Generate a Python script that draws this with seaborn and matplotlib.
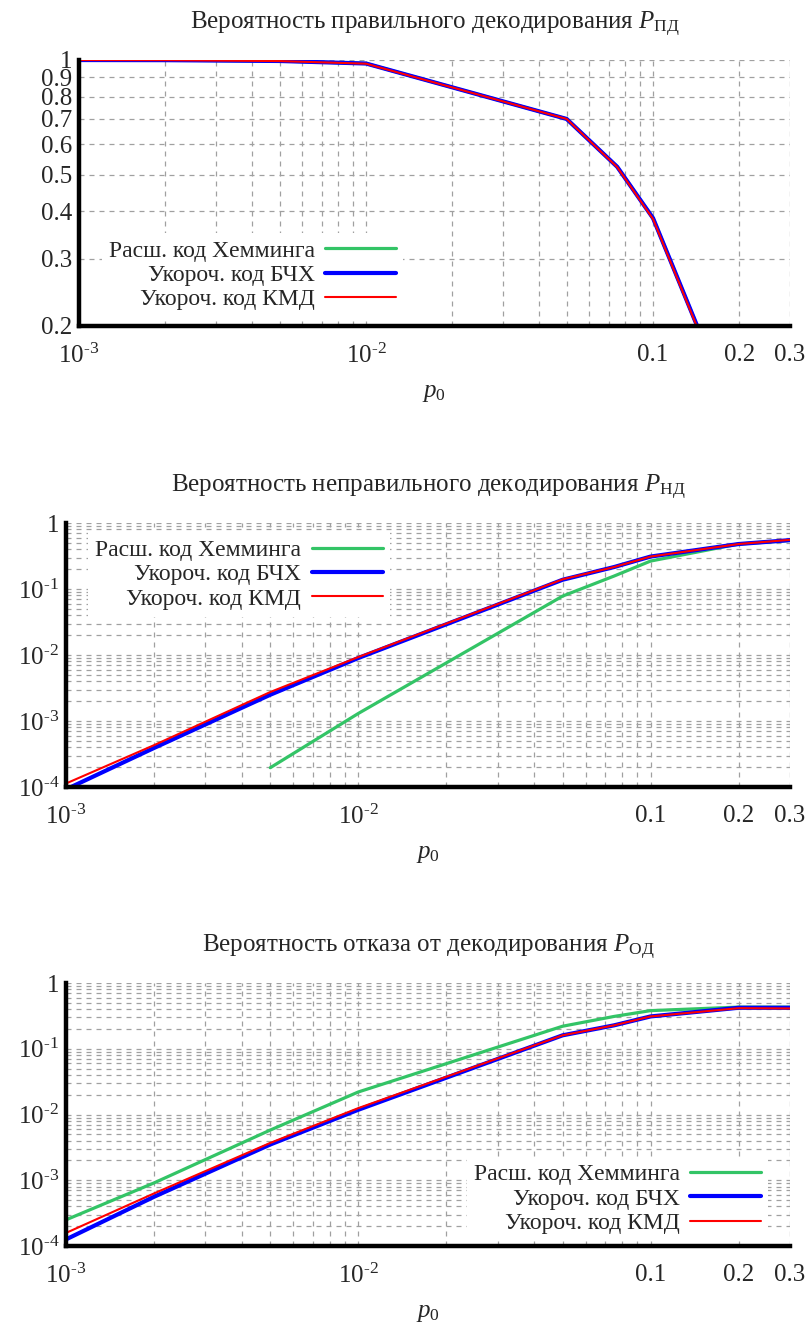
import numpy as np
import pandas as pd
import matplotlib
matplotlib.use("Agg")
import matplotlib.pyplot as plt
import matplotlib.ticker as mticker
import seaborn as sns

# ================= DATA =================
P0 = [0.001, 0.002, 0.005, 0.01, 0.05, 0.075, 0.1, 0.2, 0.3]

# probability of correct decoding
PD_HAM = [0.9998, 0.999, 0.994, 0.979, 0.70, 0.524, 0.384, 0.107, 0.034]
PD_BCH = [0.9998, 0.999, 0.994, 0.979, 0.70, 0.524, 0.384, 0.107, 0.034]
PD_KMD = [0.9997, 0.999, 0.9935, 0.978, 0.70, 0.523, 0.382, 0.106, 0.034]

# probability of incorrect decoding (Hamming is zero below 0.005)
ND_HAM = [np.nan, np.nan, 1.96e-4, 1.3e-3, 0.078, 0.157, 0.265, 0.48, 0.545]
ND_BCH = [0.92e-4, 3.9e-4, 2.5e-3, 9.0e-3, 0.138, 0.215, 0.31, 0.48, 0.55]
ND_KMD = [1.13e-4, 4.3e-4, 2.75e-3, 9.3e-3, 0.14, 0.215, 0.31, 0.48, 0.556]

# probability of decoding refusal
OD_HAM = [2.5e-4, 9.1e-4, 5.8e-3, 0.022, 0.22, 0.31, 0.38, 0.43, 0.43]
OD_BCH = [1.26e-4, 5.6e-4, 3.5e-3, 0.0118, 0.16, 0.227, 0.31, 0.42, 0.42]
OD_KMD = [1.58e-4, 6.3e-4, 3.7e-3, 0.0125, 0.16, 0.227, 0.31, 0.414, 0.41]

LABELS = ["Расш. код Хемминга", "Укороч. код БЧХ", "Укороч. код КМД"]
TITLES = [
    r"Вероятность правильного декодирования $P_{\mathrm{ПД}}$",
    r"Вероятность неправильного декодирования $P_{\mathrm{НД}}$",
    r"Вероятность отказа от декодирования $P_{\mathrm{ОД}}$",
]

X_MAJOR = [0.001, 0.01, 0.1, 0.2, 0.3]
X_MAJOR_LABELS = [r"$10^{\text{-3}}$", r"$10^{\text{-2}}$", "0.1", "0.2", "0.3"]
Y1_TICKS = [0.2, 0.3, 0.4, 0.5, 0.6, 0.7, 0.8, 0.9, 1.0]
Y1_LABELS = ["0.2", "0.3", "0.4", "0.5", "0.6", "0.7", "0.8", "0.9", "1"]
Y_DEC_TICKS = [1e-4, 1e-3, 1e-2, 1e-1, 1]
Y_DEC_LABELS = [r"$10^{\text{-4}}$", r"$10^{\text{-3}}$", r"$10^{\text{-2}}$",
                r"$10^{\text{-1}}$", "1"]

# ================= STYLE =================
sns.set_style("white")
plt.rcParams["font.family"] = ["Liberation Serif", "DejaVu Serif"]
plt.rcParams["mathtext.fontset"] = "custom"
plt.rcParams["mathtext.rm"] = "Liberation Serif"
plt.rcParams["mathtext.it"] = "Liberation Serif:italic"
plt.rcParams["font.size"] = 18

COLORS = ["#33c466", "#0000ff", "#ff0000"]
WIDTHS = [2.3, 3.0, 1.5]
GRID_KW = dict(color="#a0a0a0", linestyle=(0, (4, 4)), linewidth=0.9)


def draw_panel(ax, series, title, ylim, yticks, ylabels, legend_kw, minor_y):
    for (ys, label, color, lw) in zip(series, LABELS, COLORS, WIDTHS):
        df = pd.DataFrame({"p0": P0, "val": ys}).dropna()
        sns.lineplot(data=df, x="p0", y="val", color=color, linewidth=lw,
                     label=label, ax=ax, legend=False)
    ax.set_xscale("log")
    ax.set_yscale("log")
    ax.set_xlim(0.001, 0.3)
    ax.set_ylim(*ylim)

    ax.xaxis.set_major_locator(mticker.FixedLocator(X_MAJOR))
    ax.xaxis.set_major_formatter(mticker.FixedFormatter(X_MAJOR_LABELS))
    ax.xaxis.set_minor_locator(mticker.LogLocator(base=10, subs=np.arange(2, 10)))
    ax.xaxis.set_minor_formatter(mticker.NullFormatter())

    ax.yaxis.set_major_locator(mticker.FixedLocator(yticks))
    ax.yaxis.set_major_formatter(mticker.FixedFormatter(ylabels))
    if minor_y:
        ax.yaxis.set_minor_locator(mticker.LogLocator(base=10, subs=np.arange(2, 10)))
    else:
        ax.yaxis.set_minor_locator(mticker.NullLocator())
    ax.yaxis.set_minor_formatter(mticker.NullFormatter())

    ax.grid(True, which="both", **GRID_KW)
    ax.set_axisbelow(True)

    for side in ["top", "right"]:
        ax.spines[side].set_visible(False)
    for side in ["left", "bottom"]:
        ax.spines[side].set_linewidth(3.2)
        ax.spines[side].set_color("black")
    ax.tick_params(which="major", direction="in", length=6, width=3, color="black")
    ax.tick_params(which="minor", direction="in", length=3, width=3, color="black")
    ax.tick_params(axis="x", which="major", pad=13)
    ax.tick_params(axis="y", which="major", pad=5)

    ax.set_xlabel(r"$p_0$", labelpad=10)
    ax.set_ylabel("")
    ax.set_title(title, pad=22, fontsize=18)

    handles, labels = ax.get_legend_handles_labels()
    leg = ax.legend(handles, labels, markerfirst=False, frameon=True, fontsize=17,
                    handlelength=3.0, handletextpad=0.45, labelspacing=0.12,
                    borderpad=0.3, borderaxespad=0, fancybox=False, **legend_kw)
    leg.get_frame().set_facecolor("white")
    leg.get_frame().set_edgecolor("none")
    leg.get_frame().set_alpha(1)


fig = plt.figure(figsize=(8.05, 13.34), dpi=100)
ax1 = fig.add_axes([79 / 805, 1 - 326 / 1334, 711 / 805, 266 / 1334])
ax2 = fig.add_axes([66 / 805, 1 - 787 / 1334, 724 / 805, 264 / 1334])
ax3 = fig.add_axes([66 / 805, 1 - 1246 / 1334, 724 / 805, 263 / 1334])

draw_panel(ax1, [PD_HAM, PD_BCH, PD_KMD], TITLES[0], (0.2, 1.0), Y1_TICKS, Y1_LABELS,
           dict(loc="upper right", bbox_to_anchor=(0.456, 0.35)), minor_y=False)
draw_panel(ax2, [ND_HAM, ND_BCH, ND_KMD], TITLES[1], (1e-4, 1.0), Y_DEC_TICKS, Y_DEC_LABELS,
           dict(loc="upper right", bbox_to_anchor=(0.447, 0.965)), minor_y=True)
draw_panel(ax3, [OD_HAM, OD_BCH, OD_KMD], TITLES[2], (1e-4, 1.0), Y_DEC_TICKS, Y_DEC_LABELS,
           dict(loc="upper right", bbox_to_anchor=(0.97, 0.34)), minor_y=True)

fig.savefig("out.png", dpi=100)
plt.close(fig)
